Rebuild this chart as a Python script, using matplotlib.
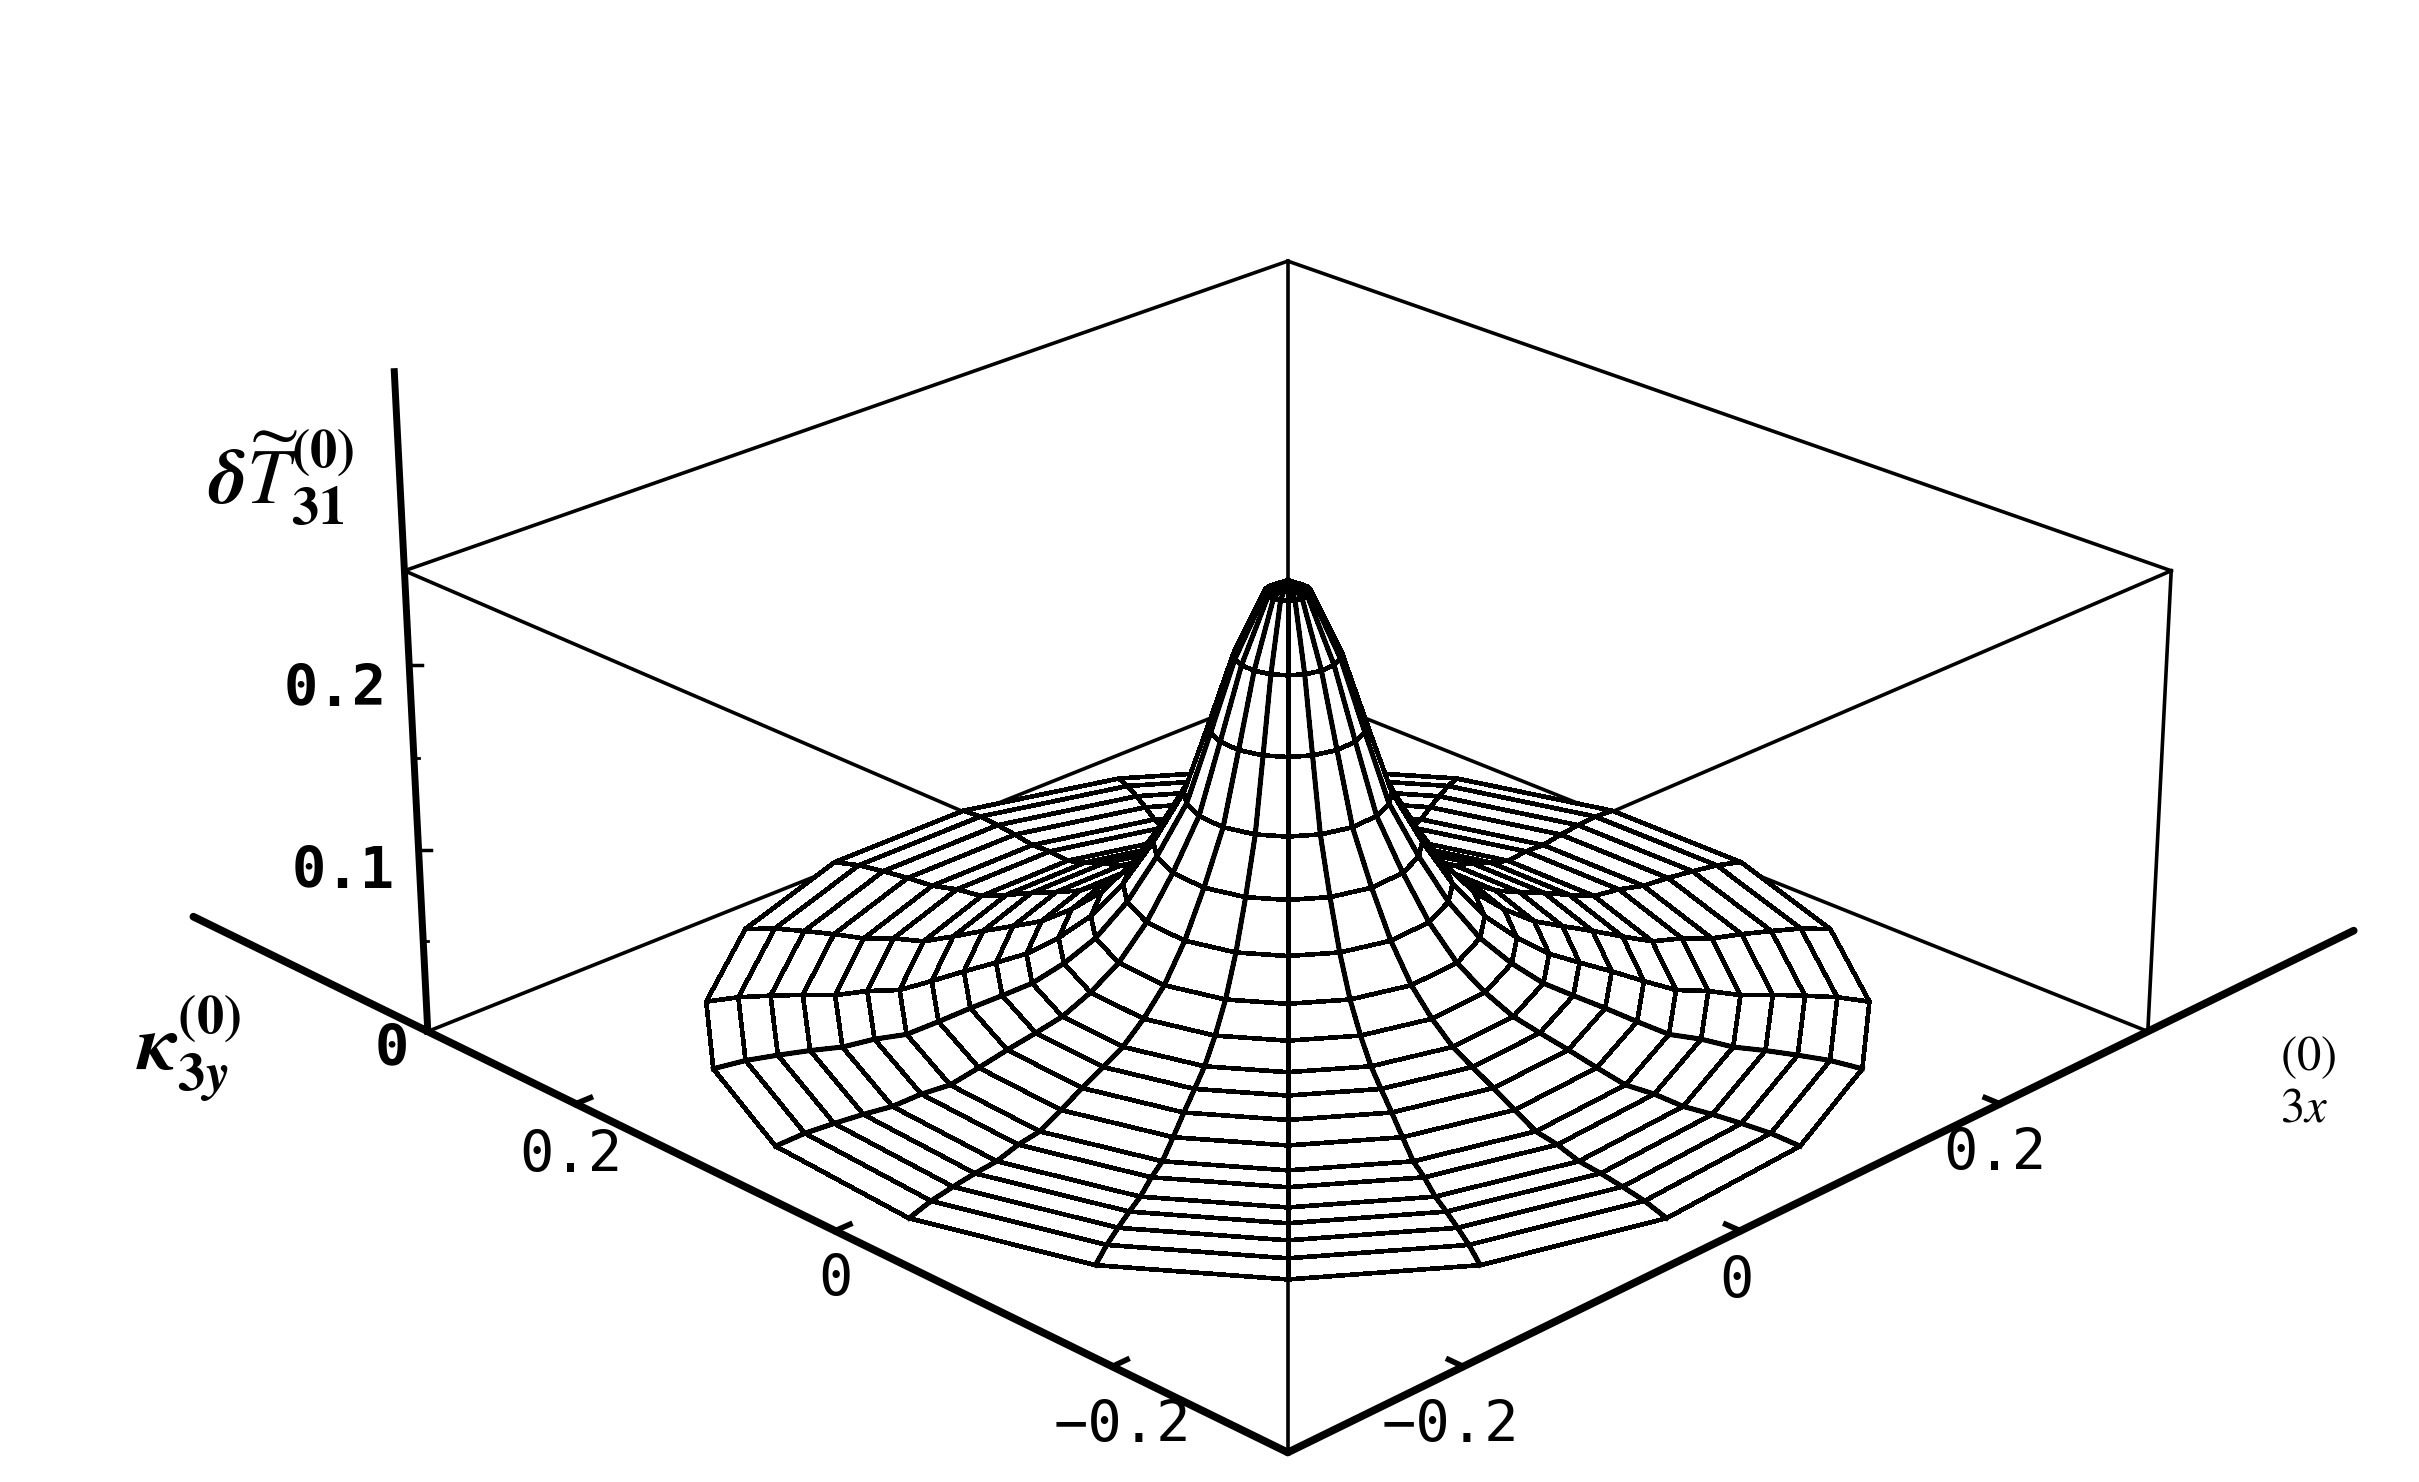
import numpy as np
import matplotlib
matplotlib.use("Agg")
import matplotlib.pyplot as plt
from mpl_toolkits.mplot3d import Axes3D  # noqa

# ---- values ----
ring_radius = [0.0, 0.012, 0.028, 0.041, 0.054, 0.070, 0.086, 0.103, 0.120, 0.137,
               0.153, 0.170, 0.187, 0.204, 0.221, 0.238, 0.255, 0.272, 0.289, 0.306]
ring_height = [0.245, 0.239, 0.206, 0.168, 0.131, 0.104, 0.081, 0.063, 0.051, 0.042,
               0.037, 0.032, 0.0265, 0.0214, 0.0207, 0.0183, 0.0183, 0.0177, 0.0167, 0.0141]
spoke_angle_deg = [-180, -162, -144, -126, -108, -91, -76, -58, -38, -18, 0,
                   18, 38, 58, 76, 91, 108, 126, 144, 162, 180]
heavy_spoke_deg = [-76, -58, -38, -18, 0, 18, 38, 58, 76]
axis_limit = [-0.32, 0.32]
z_limit = [0.0, 0.25]
y_axis_end = 0.52
x_axis_end = 0.495
z_axis_end = 0.354
xy_ticks = [-0.2, 0.0, 0.2]
z_ticks = [0.1, 0.2]
z_minor_ticks = [0.05, 0.15]

W, H = 2419, 1482
plt.rcParams["mathtext.fontset"] = "stix"
fig = plt.figure(figsize=(W / 100, H / 100), dpi=100, facecolor="white")


def fx(x):
    return x / W


def fy(y):
    return 1 - y / H


ax = fig.add_axes([383 / W, (H - 1709) / H, 1762 / W, 1762 / H], projection="3d")
ax.set_proj_type("persp", focal_length=0.8192)
ax.view_init(elev=24.45, azim=-135)
ax.set_box_aspect((2, 2, 0.821), zoom=1)
ax.set_xlim(*axis_limit)
ax.set_ylim(*axis_limit)
ax.set_zlim(*z_limit)
ax.set_axis_off()
ax.computed_zorder = False
ax.patch.set_alpha(0)

a0, a1 = axis_limit
z0, z1 = z_limit

# box, behind the surface
box_edges = [
    ((a0, a0, z0), (a1, a0, z0)), ((a1, a0, z0), (a1, a1, z0)),
    ((a1, a1, z0), (a0, a1, z0)), ((a0, a1, z0), (a0, a0, z0)),
    ((a0, a0, z1), (a1, a0, z1)), ((a1, a0, z1), (a1, a1, z1)),
    ((a1, a1, z1), (a0, a1, z1)), ((a0, a1, z1), (a0, a0, z1)),
    ((a0, a0, z0), (a0, a0, z1)), ((a1, a0, z0), (a1, a0, z1)),
    ((a1, a1, z0), (a1, a1, z1)),
]
for p, q in box_edges:
    ax.plot(*zip(p, q), color="black", lw=2.6, zorder=1, clip_on=False)


def surface_xy(rad, ang):
    return (rad * (-np.cos(ang) + np.sin(ang)) / np.sqrt(2),
            rad * (-np.cos(ang) - np.sin(ang)) / np.sqrt(2))


# surface
r = np.array(ring_radius)
h = np.array(ring_height)
t = np.radians(spoke_angle_deg)
R, T = np.meshgrid(r, t)
Z = np.tile(h, (len(t), 1))
X, Y = surface_xy(R, T)
surf = ax.plot_surface(X, Y, Z, rstride=1, cstride=1, color="white", edgecolor="black",
                       linewidth=2.6, shade=False, antialiased=False, zorder=2)
surf.set_clip_on(False)
for d in heavy_spoke_deg:
    sx, sy = surface_xy(r, np.radians(d))
    ax.plot(sx, sy, h, color="black", lw=3.6, zorder=2.5, clip_on=False)

# thick axes and ticks
ax.plot([a0, a0], [a0, y_axis_end], [z0, z0], color="black", lw=5.5, zorder=3,
        solid_capstyle="round", clip_on=False)
ax.plot([a0, x_axis_end], [a0, a0], [z0, z0], color="black", lw=5.5, zorder=3,
        solid_capstyle="round", clip_on=False)
ax.plot([a0, a0], [a1, a1], [z0, z_axis_end], color="black", lw=5, zorder=3, clip_on=False)
for v in xy_ticks:
    ax.plot([a0, a0 + 0.010], [v, v], [z0, z0], color="black", lw=4, zorder=3, clip_on=False)
    ax.plot([v, v], [a0, a0 + 0.010], [z0, z0], color="black", lw=4, zorder=3, clip_on=False)
for v in z_ticks:
    ax.plot([a0, a0 + 0.0045], [a1, a1 - 0.0045], [v, v], color="black", lw=2.5, zorder=3, clip_on=False)
for v in z_minor_ticks:
    ax.plot([a0, a0 + 0.0018], [a1, a1 - 0.0018], [v, v], color="black", lw=2.0, zorder=3, clip_on=False)

# text
tick_font = dict(family="DejaVu Sans Mono", color="black", ha="center", va="center")
for s, x, y in [("0.2", 571, 1156), ("0", 835, 1281), ("\u22120.2", 1122, 1427),
                ("0.2", 1995, 1154), ("0", 1736, 1282), ("\u22120.2", 1450, 1427)]:
    fig.text(fx(x), fy(y), s, fontsize=41, **tick_font)
for s, x, y in [("0.2", 335, 690), ("0.1", 343, 872), ("0", 392, 1050)]:
    fig.text(fx(x), fy(y), s, fontweight="bold", fontsize=41, **tick_font)
fig.text(fx(281), fy(478), r"$\boldsymbol{\delta}\mathbf{\widetilde{\mathit{T}}}_{\mathbf{31}}^{\mathbf{(0)}}$",
         fontsize=56, ha="center", va="center", color="black")
fig.text(fx(188), fy(1049), r"$\boldsymbol{\kappa}_{\mathbf{3}\boldsymbol{y}}^{\mathbf{(0)}}$",
         fontsize=56, ha="center", va="center", color="black")
fig.text(fx(2308), fy(1080), r"$^{(0)}_{3x}$", fontsize=50, ha="center", va="center", color="black")

fig.savefig("out.png", dpi=100, facecolor="white")
